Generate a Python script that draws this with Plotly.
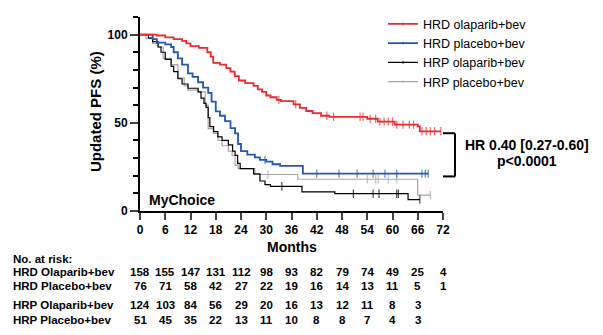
import plotly.graph_objects as go

# ---------------- data ----------------
series_names = ["HRD olaparib+bev", "HRD placebo+bev", "HRP olaparib+bev", "HRP placebo+bev"]

hrd_ola_t = [0, 4, 6, 8, 10, 11, 12, 14, 16, 16.8, 17.4, 19, 20.5, 21.5, 22.5, 23.5, 25, 27, 28, 29, 30, 31, 32.5,
             33.5, 36.5, 38, 39.5, 41, 43, 45, 54, 56.5, 60.5, 66, 66.5, 71.5]
hrd_ola_s = [100, 99.5, 98.5, 97.5, 96.5, 95, 93.5, 92.5, 90, 87.5, 84, 83, 81, 79, 76.5, 74, 72.5, 71, 69, 67.5, 65.5,
             64.5, 63, 62.3, 60.5, 58.5, 56.7, 55.5, 54, 53.4, 52.3, 50.7, 49, 48, 45.2, 45.2]
hrd_ola_cens = [33, 37, 44.4, 46, 52.3, 53, 54.7, 56, 57, 58, 59, 60, 61, 62.5, 64, 65, 67, 68, 69, 70, 71.5]

hrd_pla_t = [0, 3, 4, 6, 7.4, 8, 9, 10, 11.4, 12.5, 13.8, 15, 16.2, 17, 18, 19, 20.2, 21.5, 22.6, 23.3, 24, 25.5, 27.3,
             28.5, 30, 31.5, 33.3, 38.7, 68.5]
hrd_pla_s = [100, 97.5, 95.5, 94.5, 93, 90, 86.5, 83, 78, 76, 73, 70, 67, 62, 56.5, 54, 51, 47, 44, 38, 34, 32, 30.4,
             29, 28, 26.5, 25.6, 21.2, 21.2]
hrd_pla_cens = [29.7, 42, 47.3, 51.6, 55.4, 58.2, 61, 67, 67.8, 68.5]

hrp_ola_t = [0, 2, 3, 4.3, 5, 6, 7.4, 8, 9, 10, 11.4, 13.8, 14.5, 15.2, 15.7, 16.2, 16.6, 17.5, 18.5, 19.5, 21, 22,
             22.6, 23.2, 23.8, 27, 28.5, 29.7, 31, 38.5, 46.3, 63.7, 66.5]
hrp_ola_s = [100, 98, 96, 93, 90, 86, 82, 79, 75, 72, 69.6, 67.5, 64, 61, 58.7, 53, 47.8, 45, 42, 40, 37.5, 34, 31.5,
             27, 24, 21, 17, 15, 14, 10.8, 9.8, 6.5, 6.5]
hrp_ola_cens = [33.7, 50.7, 55.4, 56.8, 61, 61.4, 66.5]

hrp_pla_t = [0, 1.4, 3, 4.3, 5.5, 7.4, 9, 10.5, 11.4, 13.8, 15.5, 16.2, 17.4, 18.5, 19.5, 21, 21.9, 22.6, 23.3, 27.3,
             37.5, 66, 69]
hrp_pla_s = [100, 98, 95, 93, 86.5, 83, 75.5, 71, 68.5, 67.5, 60, 46.7, 44, 40, 37, 34, 31.5, 26, 24, 20.7, 18, 9, 9]
hrp_pla_cens = [30.4, 54, 56, 56.6, 59, 61, 69]

risk_months = [0, 6, 12, 18, 24, 30, 36, 42, 48, 54, 60, 66, 72]
risk_labels = ["HRD Olaparib+bev", "HRD Placebo+bev", "HRP Olaparib+bev", "HRP Placebo+bev"]
risk_hrd_ola = [158, 155, 147, 131, 112, 98, 93, 82, 79, 74, 49, 25, 4]
risk_hrd_pla = [76, 71, 58, 42, 27, 22, 19, 16, 14, 13, 11, 5, 1]
risk_hrp_ola = [124, 103, 84, 56, 29, 20, 16, 13, 12, 11, 8, 3]
risk_hrp_pla = [51, 45, 35, 22, 13, 11, 10, 8, 8, 7, 4, 3]

x_ticks = [0, 6, 12, 18, 24, 30, 36, 42, 48, 54, 60, 66, 72]
y_ticks = [0, 50, 100]
hr_text = ["HR 0.40 [0.27-0.60]", "p<0.0001"]

# ---------------- styling ----------------
colors = ["#ee2a2e", "#2456b4", "#000000", "#a6a6a6"]
widths = [1.8, 1.8, 1.2, 1.2]
FONT = "Liberation Sans, Arial, sans-serif"

W, H = 603, 335
ML, MR, MT, MB = 140, 160, 9, 124
PW, PH = W - ML - MR, H - MT - MB


def py(p):  # pixel y -> paper y
    return (H - MB - p) / PH


def px(p):  # pixel x -> paper x
    return (p - ML) / PW


def step_value(ts, ss, t):
    v = ss[0]
    for ti, si in zip(ts, ss):
        if ti <= t:
            v = si
    return v


fig = go.Figure()
all_series = [(hrd_ola_t, hrd_ola_s, hrd_ola_cens), (hrd_pla_t, hrd_pla_s, hrd_pla_cens),
              (hrp_ola_t, hrp_ola_s, hrp_ola_cens), (hrp_pla_t, hrp_pla_s, hrp_pla_cens)]

for i in [3, 2, 1, 0]:
    ts, ss, cs = all_series[i]
    pts = [(t, s, 0) for t, s in zip(ts, ss)] + [(c, step_value(ts, ss, c), 6) for c in cs]
    pts.sort(key=lambda p: (p[0], -p[1]))
    fig.add_trace(go.Scatter(
        x=[p[0] for p in pts], y=[p[1] for p in pts], name=series_names[i],
        mode="lines+markers", line=dict(shape="hv", color=colors[i], width=widths[i]),
        marker=dict(symbol="line-ns", size=[p[2] for p in pts],
                    line=dict(color=colors[i], width=1.2)),
        legendrank=i + 1, showlegend=True, cliponaxis=False,
    ))

fig.update_layout(
    width=W, height=H, margin=dict(l=ML, r=MR, t=MT, b=MB),
    paper_bgcolor="white", plot_bgcolor="white",
    font=dict(family=FONT, color="black"),
    legend=dict(x=px(383), y=py(1), xanchor="left", yanchor="top", itemwidth=30,
                font=dict(size=12.5, family=FONT), bgcolor="rgba(0,0,0,0)",
                tracegroupgap=0),
    xaxis=dict(range=[0, 72], tickvals=x_ticks, ticks="outside", ticklen=7, tickwidth=2,
               showline=True, linewidth=2, linecolor="black", showgrid=False, zeroline=False,
               tickfont=dict(size=12, weight="bold")),
    yaxis=dict(range=[0, 110], tickvals=y_ticks, ticks="outside", ticklen=8, tickwidth=2,
               showline=True, linewidth=2, linecolor="black", showgrid=False, zeroline=False,
               tickfont=dict(size=12, weight="bold"),
               minor=dict(dtick=10, ticks="outside", ticklen=5, tickwidth=1.5, tickcolor="black")),
)

ann = []
ann.append(dict(text="Updated PFS (%)", textangle=-90, xref="paper", yref="paper", x=px(95), y=py(108),
                xanchor="center", yanchor="middle", showarrow=False, font=dict(size=15, weight="bold")))
ann.append(dict(text="Months", xref="x", yref="paper", x=36, y=py(249), xanchor="center", yanchor="middle",
                showarrow=False, font=dict(size=14, weight="bold")))
ann.append(dict(text="MyChoice", xref="paper", yref="paper", x=px(147), y=py(200), xanchor="left",
                yanchor="middle", showarrow=False, font=dict(size=14, weight="bold")))
ann.append(dict(text=hr_text[0], xref="paper", yref="paper", x=px(527), y=py(142), xanchor="center",
                yanchor="middle", showarrow=False, font=dict(size=14, weight="bold")))
ann.append(dict(text=hr_text[1], xref="paper", yref="paper", x=px(527), y=py(158.5), xanchor="center",
                yanchor="middle", showarrow=False, font=dict(size=14, weight="bold")))

ann.append(dict(text="No. at risk:", xref="paper", yref="paper", x=px(11), y=py(261), xanchor="left",
                yanchor="middle", showarrow=False, font=dict(size=11.5, weight="bold")))
row_y = [275, 289.5, 309, 324]
risk_rows = [risk_hrd_ola, risk_hrd_pla, risk_hrp_ola, risk_hrp_pla]
for lab, vals, ry in zip(risk_labels, risk_rows, row_y):
    ann.append(dict(text=lab, xref="paper", yref="paper", x=px(11), y=py(ry), xanchor="left",
                    yanchor="middle", showarrow=False, font=dict(size=11.5, weight="bold")))
    for m, v in zip(risk_months, vals):
        ann.append(dict(text=str(v), xref="x", yref="paper", x=m, y=py(ry), xanchor="center",
                        yanchor="middle", showarrow=False, font=dict(size=11.5, weight="bold")))
fig.update_layout(annotations=ann)

# bracket
bx0, bx1, by0, by1 = px(443), px(455), py(130), py(175)
for x0, y0, x1, y1 in [(bx0, by0, bx1, by0), (bx1, by0, bx1, by1), (bx0, by1, bx1, by1)]:
    fig.add_shape(type="line", xref="paper", yref="paper", x0=x0, y0=y0, x1=x1, y1=y1,
                  line=dict(color="black", width=2))

fig.write_html("out.html", config={"displayModeBar": False},
               post_script="document.body.style.margin='0px';document.body.style.overflow='hidden';")
